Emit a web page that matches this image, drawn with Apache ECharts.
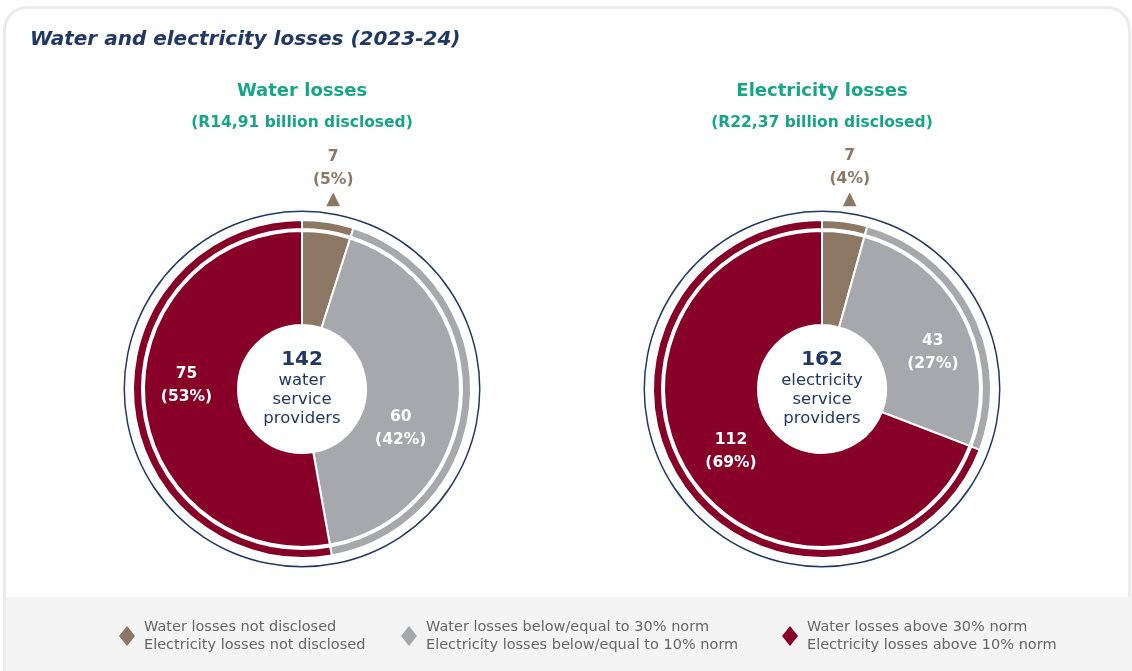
<!DOCTYPE html>
<html>
<head>
<meta charset="utf-8">
<title>Water and electricity losses (2023-24)</title>
<script src="https://cdn.jsdelivr.net/npm/echarts@6/dist/echarts.min.js"></script>
<style>
  html, body { margin: 0; padding: 0; background: #fff; }
  #wrap { position: relative; width: 1132px; height: 671px; overflow: hidden; }
  #card { position: absolute; left: 3px; top: 6px; width: 1122px; height: 700px;
          border: 3px solid #ebebeb; border-bottom: none; border-radius: 24px 24px 0 0; }
  #legendBand { position: absolute; left: 6px; top: 597px; right: 0; bottom: 0; background: #f4f4f4; }
  #chart { position: absolute; left: 0; top: 0; width: 1132px; height: 671px; }
</style>
</head>
<body>
<div id="wrap">
  <div id="card"></div>
  <div id="legendBand"></div>
  <div id="chart"></div>
</div>
<script>
// categories shared by both pies
const categories = ['Not disclosed', 'Below/equal to norm', 'Above norm'];
const waterValues = [7, 60, 75];
const electricityValues = [7, 43, 112];

const waterLegend = ['Water losses not disclosed', 'Water losses below/equal to 30% norm', 'Water losses above 30% norm'];
const electricityLegend = ['Electricity losses not disclosed', 'Electricity losses below/equal to 10% norm', 'Electricity losses above 10% norm'];

const chartTitle = 'Water and electricity losses (2023-24)';
const pieTitles = ['Water losses', 'Electricity losses'];
const pieSubtitles = ['(R14,91 billion disclosed)', '(R22,37 billion disclosed)'];
const centreWords = ['water', 'electricity'];

const colors = ['#8b7763', '#a7a8ac', '#860027'];
const navy = '#1f3864';
const teal = '#17a589';
const font = '"DejaVu Sans", Verdana, sans-serif';

const chart = echarts.init(document.getElementById('chart'));

function sum(arr) { return arr.reduce((a, b) => a + b, 0); }

function buildPie(values, centre, shifts) {
  const items = (withLabel) => values.map((v, i) => ({
    name: categories[i],
    value: v,
    itemStyle: { color: colors[i] },
    label: withLabel(i)
  }));
  const inner = {
    type: 'pie',
    center: centre,
    radius: [64, 158],
    startAngle: 90,
    silent: true,
    avoidLabelOverlap: false,
    itemStyle: { borderColor: '#fff', borderWidth: 2 },
    label: {
      position: 'inside',
      color: '#fff',
      fontFamily: font,
      fontWeight: 'bold',
      fontSize: 15.5,
      lineHeight: 23,
      formatter: p => p.value + '\n(' + Math.round(p.percent) + '%)'
    },
    labelLine: { show: false },
    data: items(i => i === 0 ? { show: false } : { show: true, offset: shifts[i] })
  };
  const ring = {
    type: 'pie',
    center: centre,
    radius: [160, 169],
    startAngle: 90,
    silent: true,
    avoidLabelOverlap: false,
    itemStyle: { borderColor: '#fff', borderWidth: 2 },
    label: {
      position: 'outside',
      distanceToLabelLine: 0,
      formatter: p => '{v|' + p.value + '}\n{v|(' + Math.round(p.percent) + '%)}\n{t|▲}',
      rich: {
        v: { color: colors[0], fontFamily: font, fontWeight: 'bold', fontSize: 15.5, lineHeight: 23, align: 'center' },
        t: { color: colors[0], fontFamily: font, fontSize: 18, lineHeight: 17, align: 'center' }
      }
    },
    labelLine: { show: false, length: 14, length2: 0 },
    labelLayout: p => p.dataIndex === 0 ? { align: 'center', verticalAlign: 'bottom', dx: 3 } : {},
    data: items(i => ({ show: i === 0 }))
  };
  const outline = {
    type: 'pie',
    center: centre,
    radius: [177, 178.5],
    silent: true,
    label: { show: false },
    labelLine: { show: false },
    itemStyle: { color: navy },
    data: [{ value: 1, name: '' }]
  };
  return [outline, inner, ring];
}

const centres = [[302, 389], [822, 389]];
const totals = [sum(waterValues), sum(electricityValues)];

const option = {
  animation: false,
  title: [
    {
      text: chartTitle,
      left: 30, top: 28, padding: 0,
      textStyle: { color: navy, fontFamily: font, fontSize: 20, fontStyle: 'italic', fontWeight: 'bold', lineHeight: 24 }
    },
    ...pieTitles.map((t, k) => ({
      text: t,
      subtext: pieSubtitles[k],
      left: centres[k][0], top: 80, padding: 0, itemGap: 11,
      textAlign: 'center',
      textStyle: { color: teal, fontFamily: font, fontSize: 18, fontWeight: 'bold', lineHeight: 22 },
      subtextStyle: { color: teal, fontFamily: font, fontSize: 15.5, fontWeight: 'bold', lineHeight: 20 }
    })),
    ...centreWords.map((w, k) => ({
      text: '{n|' + totals[k] + '}\n{t|' + w + '}\n{t|service}\n{t|providers}',
      left: centres[k][0], top: 349, padding: 0,
      textAlign: 'center',
      textStyle: {
        fontWeight: 'normal',
        rich: {
          n: { color: navy, fontFamily: font, fontSize: 20, fontWeight: 'bold', lineHeight: 22 },
          t: { color: navy, fontFamily: font, fontSize: 16.5, fontWeight: 'normal', lineHeight: 19 }
        }
      }
    }))
  ],
  legend: categories.map((c, i) => ({
    data: [c],
    left: [119, 401, 782][i],
    top: 618,
    padding: 0,
    icon: 'diamond',
    itemWidth: 16,
    itemHeight: 20,
    itemStyle: { borderWidth: 0 },
    selectedMode: false,
    formatter: name => {
      const k = categories.indexOf(name);
      return waterLegend[k] + '\n' + electricityLegend[k];
    },
    textStyle: { color: '#666', fontFamily: font, fontSize: 14.5, lineHeight: 18, padding: [0, 0, 0, 4] }
  })),
  series: [
    ...buildPie(waterValues, centres[0], [null, [-15, 32], [-2, -14]]),
    ...buildPie(electricityValues, centres[1], [null, [9, 15], [3, -2]])
  ]
};

chart.setOption(option);
</script>
</body>
</html>
